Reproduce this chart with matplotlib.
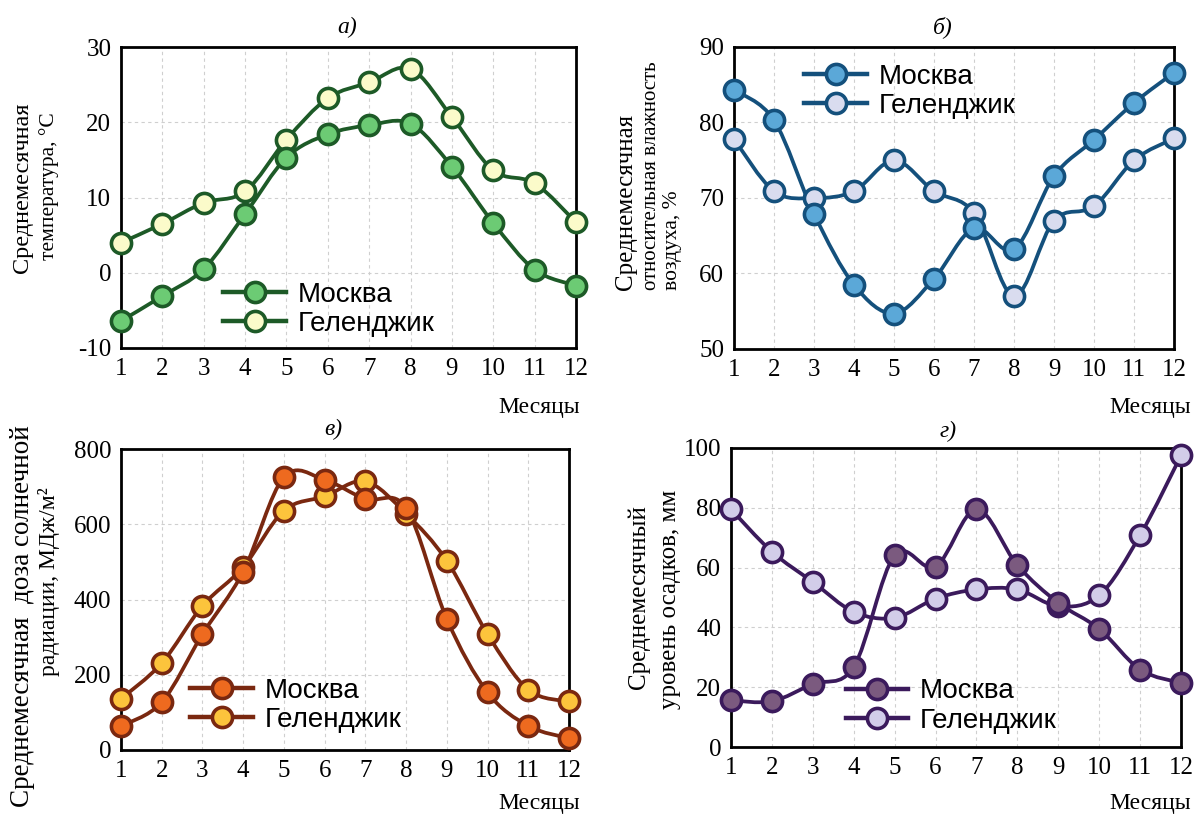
import numpy as np
import matplotlib
matplotlib.use("Agg")
import matplotlib.pyplot as plt
from matplotlib.path import Path
from matplotlib.patches import PathPatch
from matplotlib.lines import Line2D

months = list(range(1, 13))

temp_moscow = [-6.4, -3.1, 0.5, 7.8, 15.3, 18.4, 19.6, 19.8, 14.1, 6.6, 0.4, -1.7]
temp_gelen = [4.0, 6.5, 9.3, 10.8, 17.7, 23.2, 25.3, 27.1, 20.7, 13.6, 11.9, 6.7]

hum_moscow = [84.3, 80.3, 67.9, 58.5, 54.7, 59.3, 66.0, 63.2, 72.9, 77.7, 82.6, 86.6]
hum_gelen = [77.8, 70.9, 70.0, 70.9, 75.0, 70.9, 68.0, 57.0, 67.0, 68.9, 75.0, 77.9]

rad_moscow = [64, 127, 308, 474, 725, 718, 667, 643, 348, 153, 64, 31]
rad_gelen = [136, 231, 383, 486, 636, 674, 714, 628, 503, 308, 160, 129]

prec_moscow = [15.6, 15.3, 21.1, 26.8, 64.1, 60.3, 79.5, 60.8, 48.2, 39.5, 25.9, 21.4]
prec_gelen = [79.5, 65.3, 55.2, 45.2, 43.2, 49.6, 52.7, 52.7, 47.1, 50.7, 70.8, 97.5]

W, H = 1196, 815
fig = plt.figure(figsize=(W / 100, H / 100), dpi=100)

serif = ["Liberation Serif", "DejaVu Serif"]
sans = ["Liberation Sans", "DejaVu Sans"]


def px_axes(left, top, right, bottom):
    return fig.add_axes([left / W, 1 - bottom / H, (right - left) / W, (bottom - top) / H])


def smooth_path(x, y):
    # Catmull-Rom segments turned into cubic Bezier pieces
    x = np.asarray(x, float)
    y = np.asarray(y, float)
    px = np.r_[x[0], x, x[-1]]
    py = np.r_[y[0], y, y[-1]]
    verts = [(x[0], y[0])]
    codes = [Path.MOVETO]
    for i in range(1, len(x)):
        p0 = (px[i - 1], py[i - 1])
        p1 = (px[i], py[i])
        p2 = (px[i + 1], py[i + 1])
        p3 = (px[i + 2], py[i + 2])
        c1 = (p1[0] + (p2[0] - p0[0]) / 6, p1[1] + (p2[1] - p0[1]) / 6)
        c2 = (p2[0] - (p3[0] - p1[0]) / 6, p2[1] - (p3[1] - p1[1]) / 6)
        verts += [c1, c2, p2]
        codes += [Path.CURVE4] * 3
    return Path(verts, codes)


def panel(ax, s1, s2, line_c, fill1, fill2, ylim, yticks, leg_anchor):
    for vals in (s1, s2):
        ax.add_patch(PathPatch(smooth_path(months, vals), facecolor="none",
                               edgecolor=line_c, lw=2.7, zorder=2))
    for vals, fc, z in [(s2, fill2, 3), (s1, fill1, 4)]:
        ax.plot(months, vals, "o", ls="none", ms=14.5, mfc=fc, mec=line_c, mew=2.6,
                zorder=z, clip_on=False)
    ax.set_xlim(1, 12)
    ax.set_ylim(*ylim)
    ax.set_xticks(months)
    ax.set_yticks(yticks)
    ax.set_xticklabels([str(m) for m in months], family=serif, fontsize=18)
    ax.set_yticklabels([str(t) for t in yticks], family=serif, fontsize=18)
    ax.tick_params(length=0, pad=7)
    ax.grid(True, color="#cfcfcf", ls=(0, (3, 3)), lw=0.8)
    ax.set_axisbelow(True)
    for sp in ax.spines.values():
        sp.set_linewidth(2)
        sp.set_color("black")
    handles = [Line2D([], [], color=line_c, lw=3.2, marker="o", ms=14.5, mfc=fc,
                      mec=line_c, mew=2.6) for fc in (fill1, fill2)]
    ax.legend(handles, ["Москва", "Геленджик"], loc="upper left", bbox_to_anchor=leg_anchor,
              frameon=False, prop={"family": sans, "size": 20}, handlelength=2.25,
              handletextpad=0.42, labelspacing=0.12, borderpad=0, borderaxespad=0)


ax_a = px_axes(121, 47, 576, 348)
panel(ax_a, temp_moscow, temp_gelen, "#1d5a27", "#6ccb74", "#fbfbca",
      (-10, 30), [-10, 0, 10, 20, 30], (0.225, 0.22))

ax_b = px_axes(734, 47, 1174, 349)
panel(ax_b, hum_moscow, hum_gelen, "#14507c", "#5ba8d8", "#d9dcef",
      (50, 90), [50, 60, 70, 80, 90], (0.16, 0.945))

ax_c = px_axes(121, 449, 569, 750)
panel(ax_c, rad_moscow, rad_gelen, "#7a2810", "#ee6a1f", "#fcc43c",
      (0, 800), [0, 200, 400, 600, 800], (0.155, 0.24))

ax_d = px_axes(731, 448, 1181, 747)
panel(ax_d, prec_moscow, prec_gelen, "#3b1a5c", "#7b5a7f", "#d2cde9",
      (0, 100), [0, 20, 40, 60, 80, 100], (0.255, 0.23))

title_kw = dict(family=serif, style="italic", fontsize=17, ha="center", va="center")
fig.text(347 / W, 1 - 27 / H, "а)", **title_kw)
fig.text(943 / W, 1 - 27 / H, "б)", **title_kw)
fig.text(333 / W, 1 - 429 / H, "в)", **title_kw)
fig.text(948 / W, 1 - 431 / H, "г)", **title_kw)

xl_kw = dict(family=serif, fontsize=17, ha="center", va="center")
for x, y in [(539, 407), (1150, 407), (539, 803), (1150, 803)]:
    fig.text(x / W, 1 - y / H, "Месяцы", **xl_kw)


def ylabel_line(x, y, s, size, va="center"):
    fig.text(x / W, 1 - y / H, s, family=serif, fontsize=size, ha="center", va=va,
             rotation=90)


ylabel_line(22, 188, "Среднемесячная", 17.5)
ylabel_line(49, 186, "температура, °C", 15.5)

ylabel_line(626, 290, "Среднемесячная", 18, va="bottom")
ylabel_line(651, 290, "относительная влажность", 15, va="bottom")
ylabel_line(673, 290, "воздуха, %", 15.5, va="bottom")

ylabel_line(23, 616, "Среднемесячная  доза солнечной", 19.5)
ylabel_line(49, 582, "радиации, МДж/м²", 17)

ylabel_line(639, 597, "Среднемесячный", 18)
ylabel_line(670, 599, "уровень осадков, мм", 18)

fig.savefig("out.png", dpi=100)
